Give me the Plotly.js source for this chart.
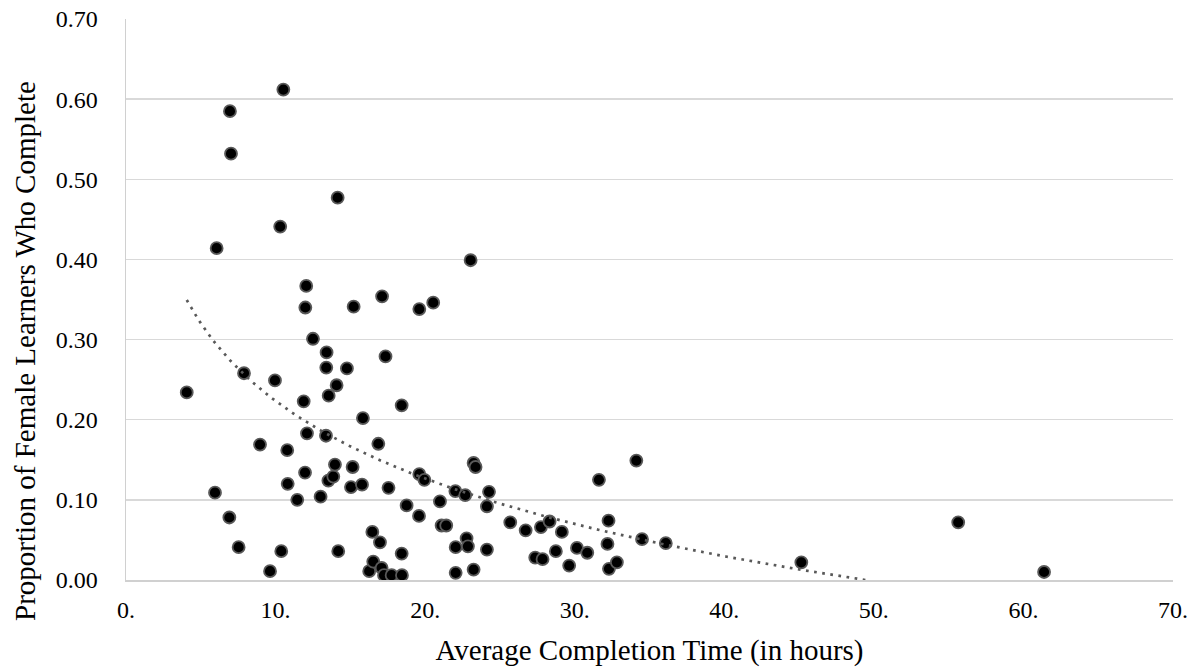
<!DOCTYPE html>
<html>
<head>
<meta charset="utf-8">
<script src="https://cdn.plot.ly/plotly-3.0.1.min.js"></script>
<style>
html,body{margin:0;padding:0;background:#fff;}
#chart{width:1196px;height:670px;}
</style>
</head>
<body>
<div id="chart"></div>
<script>
// Average completion time (hours)
const completionHours = [
  4.06, 5.95, 6.06, 6.91, 6.95, 7.02, 7.53, 7.89, 8.96, 9.63,
  9.96, 10.31, 10.38, 10.52, 10.78, 10.81, 11.45, 11.88, 11.97, 11.99,
  12.05, 12.10, 12.50, 13.01, 13.37, 13.39, 13.41, 13.53, 13.55, 13.86,
  13.97, 14.08, 14.15, 14.19, 14.77, 15.04, 15.15, 15.22, 15.78, 15.84,
  16.26, 16.47, 16.53, 16.87, 16.98, 17.09, 17.12, 17.25, 17.35, 17.55,
  17.76, 18.43, 18.43, 18.45, 18.76, 19.59, 19.61, 19.61, 19.95, 20.54,
  20.99, 21.10, 21.41, 22.02, 22.04, 22.04, 22.68, 22.77, 22.86, 23.04,
  23.24, 23.37, 23.24, 24.13, 24.27, 24.13, 25.69, 26.72, 27.36, 27.74,
  27.85, 28.32, 28.74, 29.14, 29.63, 30.15, 30.84, 31.62, 32.19, 32.26,
  32.29, 32.82, 34.12, 34.50, 36.09, 45.15, 55.64, 61.38
];
// Proportion of female learners who complete
const femaleProportion = [
  0.234, 0.109, 0.414, 0.078, 0.585, 0.532, 0.041, 0.258, 0.169, 0.011,
  0.249, 0.441, 0.036, 0.612, 0.162, 0.120, 0.100, 0.223, 0.134, 0.340,
  0.367, 0.183, 0.301, 0.104, 0.180, 0.265, 0.284, 0.124, 0.230, 0.129,
  0.144, 0.243, 0.477, 0.036, 0.264, 0.116, 0.141, 0.341, 0.119, 0.202,
  0.011, 0.060, 0.023, 0.170, 0.047, 0.015, 0.354, 0.006, 0.279, 0.115,
  0.006, 0.218, 0.033, 0.006, 0.093, 0.080, 0.132, 0.338, 0.125, 0.346,
  0.098, 0.068, 0.068, 0.111, 0.041, 0.009, 0.106, 0.052, 0.042, 0.399,
  0.146, 0.141, 0.013, 0.092, 0.110, 0.038, 0.072, 0.062, 0.028, 0.066,
  0.026, 0.073, 0.036, 0.060, 0.018, 0.040, 0.034, 0.125, 0.045, 0.074,
  0.014, 0.022, 0.149, 0.051, 0.046, 0.022, 0.072, 0.010
];
const xTickValues = [0, 10, 20, 30, 40, 50, 60, 70];
const xTickLabels = ["0.", "10.", "20.", "30.", "40.", "50.", "60.", "70."];
const yTickValues = [0, 0.1, 0.2, 0.3, 0.4, 0.5, 0.6, 0.7];
const yTickLabels = ["0.00", "0.10", "0.20", "0.30", "0.40", "0.50", "0.60", "0.70"];
const xTitle = 'Average Completion Time (in hours)';
const yTitle = 'Proportion of Female Learners Who Complete';

// Logarithmic trendline (least squares fit y = a + b ln x), as in a spreadsheet trendline
function logFit(xs, ys) {
  const n = xs.length;
  let sl = 0, sy = 0, sll = 0, sly = 0;
  for (let i = 0; i < n; i++) {
    const l = Math.log(xs[i]);
    sl += l; sy += ys[i]; sll += l * l; sly += l * ys[i];
  }
  const b = (n * sly - sl * sy) / (n * sll - sl * sl);
  const a = (sy - b * sl) / n;
  return {a, b};
}
const fit = logFit(completionHours, femaleProportion);
const xMin = Math.min(...completionHours), xMax = Math.max(...completionHours);
const trendX = [], trendY = [];
for (let i = 0; i <= 300; i++) {
  const x = xMin + (xMax - xMin) * i / 300;
  const y = fit.a + fit.b * Math.log(x);
  if (y < 0) { // stop at axis minimum
    const xz = Math.exp(-fit.a / fit.b);
    trendX.push(xz); trendY.push(0);
    break;
  }
  trendX.push(x); trendY.push(y);
}

const font = "'Liberation Serif', 'Times New Roman', serif";

const data = [
  {
    type: 'scatter', mode: 'markers',
    x: completionHours, y: femaleProportion,
    marker: {color: '#000000', size: 12, line: {color: '#595959', width: 1.8}},
    hoverinfo: 'x+y', showlegend: false
  },
  {
    type: 'scatter', mode: 'lines',
    x: trendX, y: trendY,
    line: {color: '#595959', width: 2.7, dash: '2.7px,5.5px'},
    hoverinfo: 'skip', showlegend: false
  }
];

const layout = {
  width: 1196, height: 670,
  margin: {l: 126, r: 23, t: 19, b: 90},
  paper_bgcolor: '#ffffff', plot_bgcolor: '#ffffff',
  font: {family: font, color: '#000000', size: 24},
  showlegend: false,
  xaxis: {
    range: [0, 70], tickvals: xTickValues, ticktext: xTickLabels,
    showgrid: false, zeroline: false,
    showline: true, linecolor: '#d0d0d0', linewidth: 1.5,
    ticks: '', ticklabelstandoff: 8,
    tickfont: {family: font, size: 24, color: '#000'},
    title: {text: xTitle, font: {family: font, size: 29, color: '#000'}, standoff: 17}
  },
  yaxis: {
    range: [0, 0.7], tickvals: yTickValues, ticktext: yTickLabels,
    showgrid: true, gridcolor: '#d9d9d9', gridwidth: 1.3,
    zeroline: false,
    showline: true, linecolor: '#d0d0d0', linewidth: 1.5,
    ticks: '', ticklabelstandoff: 22,
    tickfont: {family: font, size: 24, color: '#000'}
  },
  annotations: [
    {
      text: yTitle, textangle: -90, showarrow: false,
      xref: 'paper', yref: 'paper',
      x: (25 - 126) / 1047, y: (580 - 351) / 561,
      xanchor: 'center', yanchor: 'middle',
      font: {family: font, size: 29, color: '#000'}
    }
  ]
};

Plotly.newPlot('chart', data, layout, {displayModeBar: false, staticPlot: true});
</script>
</body>
</html>
